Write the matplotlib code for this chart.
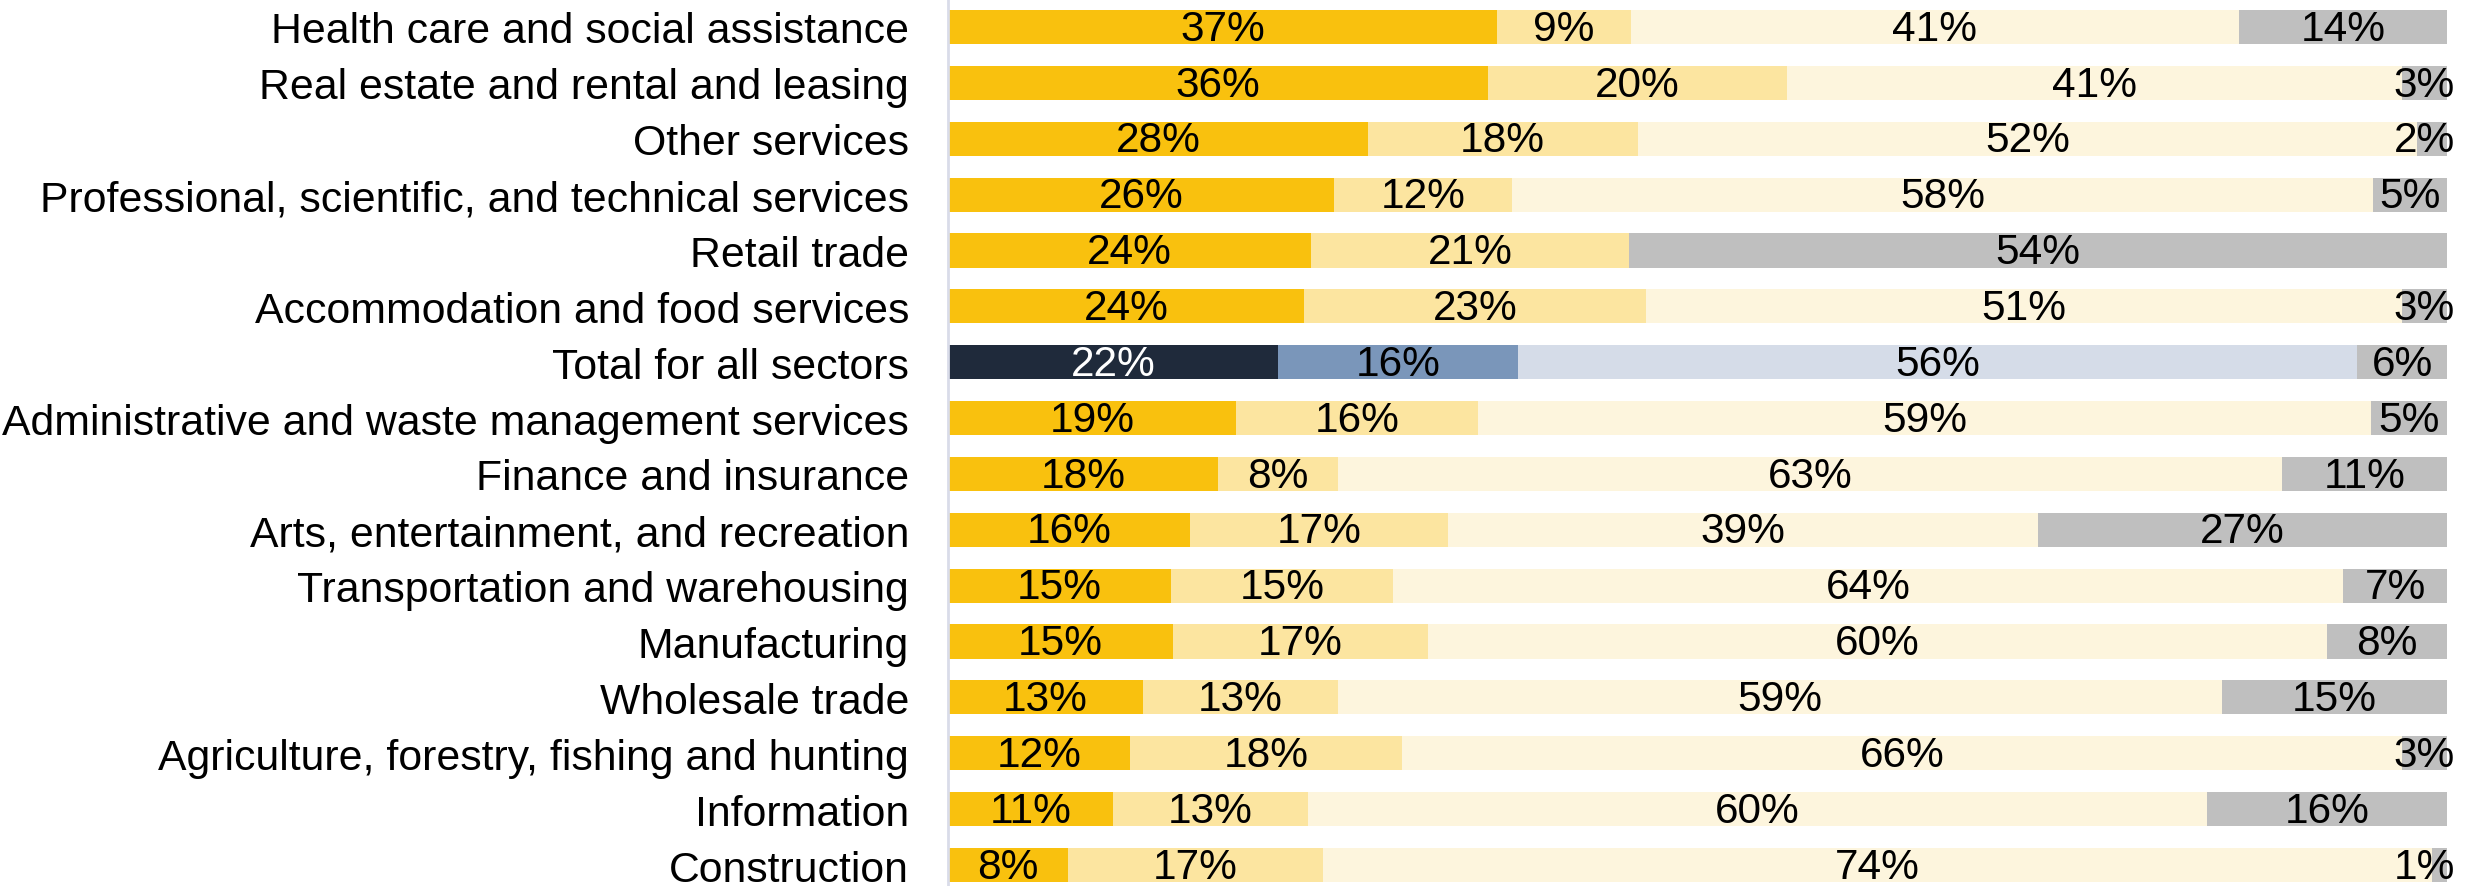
import matplotlib
matplotlib.use("Agg")
import matplotlib.pyplot as plt
import numpy as np

plt.rcParams['font.family'] = ['Liberation Sans', 'DejaVu Sans']

categories = [
    "Health care and social assistance",
    "Real estate and rental and leasing",
    "Other services",
    "Professional, scientific, and technical services",
    "Retail trade",
    "Accommodation and food services",
    "Total for all sectors",
    "Administrative and waste management services",
    "Finance and insurance",
    "Arts, entertainment, and recreation",
    "Transportation and warehousing",
    "Manufacturing",
    "Wholesale trade",
    "Agriculture, forestry, fishing and hunting",
    "Information",
    "Construction",
]
seg1 = [37, 36, 28, 26, 24, 24, 22, 19, 18, 16, 15, 15, 13, 12, 11, 8]
seg2 = [9, 20, 18, 12, 21, 23, 16, 16, 8, 17, 15, 17, 13, 18, 13, 17]
seg3 = [41, 41, 52, 58, 0, 51, 56, 59, 63, 39, 64, 60, 59, 66, 60, 74]
seg4 = [14, 3, 2, 5, 54, 3, 6, 5, 11, 27, 7, 8, 15, 3, 16, 1]

gold_colors = ["#F9C10E", "#FCE5A0", "#FDF5DD", "#BFBFBF"]
total_colors = ["#1F2A3B", "#7A96BA", "#D5DCE8", "#BFBFBF"]

W, H = 2489, 887
fig = plt.figure(figsize=(W / 100, H / 100), dpi=100)
ax = fig.add_axes([948 / W, 0, (2447 - 948) / W, 1])

segs = np.array([seg1, seg2, seg3, seg4], dtype=float)
totals = segs.sum(axis=0)
shares = segs / totals * 100
y = np.arange(len(categories))
left = np.zeros(len(categories))
for k in range(4):
    cols = [total_colors[k] if c == "Total for all sectors" else gold_colors[k] for c in categories]
    ax.barh(y, shares[k], left=left, height=0.61, color=cols, edgecolor='none')
    for i in range(len(categories)):
        v = segs[k, i]
        if v > 0:
            tc = 'white' if (categories[i] == "Total for all sectors" and k == 0) else 'black'
            xc = left[i] + shares[k, i] / 2
            xc = min(xc, 98.5)
            ax.text(xc, y[i] + 0.03, f"{int(v)}%", ha='center', va='center',
                    fontsize=30.5, color=tc, clip_on=False)
    left += shares[k]

spacing = 55.87
ax.set_ylim(len(categories) - 1 + 21 / spacing, -28 / spacing)
ax.set_xlim(0, 100)
ax.set_yticks(y)
ax.set_yticklabels(categories, fontsize=30.8)
ax.tick_params(axis='y', length=0, pad=28)
ax.set_xticks([])
for s in ['top', 'right', 'bottom']:
    ax.spines[s].set_visible(False)
ax.spines['left'].set_color('#D9DCE9')
ax.spines['left'].set_linewidth(2)

fig.savefig("out.png", dpi=100)
